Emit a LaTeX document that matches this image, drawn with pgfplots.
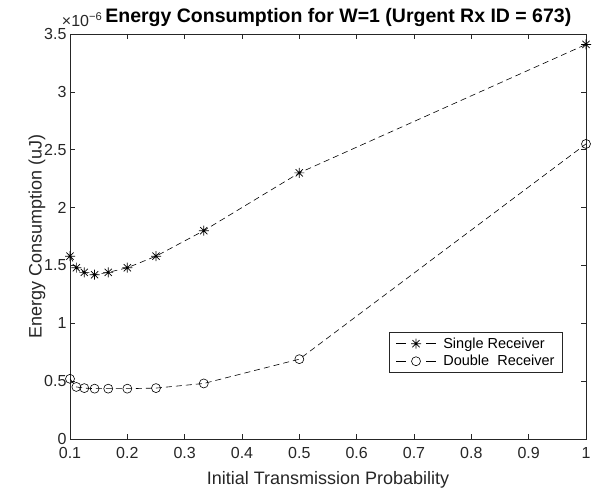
\documentclass[border=0pt]{standalone}
\usepackage{fontspec}
\setmainfont{Liberation Sans}
\usepackage{pgfplots}
\pgfplotsset{compat=1.18}

\definecolor{axgray}{RGB}{38,38,38}

% MATLAB-style asterisk: a plus and a cross on top of each other
\pgfdeclareplotmark{mstar}{%
  \pgfpathmoveto{\pgfqpoint{-\pgfplotmarksize}{0pt}}%
  \pgfpathlineto{\pgfqpoint{\pgfplotmarksize}{0pt}}%
  \pgfpathmoveto{\pgfqpoint{0pt}{-\pgfplotmarksize}}%
  \pgfpathlineto{\pgfqpoint{0pt}{\pgfplotmarksize}}%
  \pgfpathmoveto{\pgfqpoint{-0.72\pgfplotmarksize}{-0.72\pgfplotmarksize}}%
  \pgfpathlineto{\pgfqpoint{0.72\pgfplotmarksize}{0.72\pgfplotmarksize}}%
  \pgfpathmoveto{\pgfqpoint{-0.72\pgfplotmarksize}{0.72\pgfplotmarksize}}%
  \pgfpathlineto{\pgfqpoint{0.72\pgfplotmarksize}{-0.72\pgfplotmarksize}}%
  \pgfusepathqstroke}

\begin{document}
\begin{tikzpicture}
\begin{axis}[
  scale only axis,
  width=516pt, height=405pt,
  xmin=0.1, xmax=1, ymin=0, ymax=3.5,
  xtick={0.1,0.2,...,1.0},
  ytick={0,0.5,...,3.5},
  /pgf/number format/assume math mode=true,
  tick label style={font=\fontsize{16}{19}\selectfont, text=axgray},
  xticklabel style={yshift=-5pt},
  yticklabel style={xshift=0pt},
  tick align=inside,
  major tick length=5pt,
  tick style={axgray, line width=0.5pt},
  axis line style={axgray, line width=0.6pt},
  every axis x label/.style={at={(axis description cs:0.5,-0.101)}, anchor=center},
  every axis y label/.style={at={(axis description cs:-0.064,0.5)}, rotate=90, anchor=center},
  label style={font=\fontsize{18}{21}\selectfont, text=axgray},
  xlabel={Initial Transmission Probability},
  ylabel={Energy Consumption (uJ)},
  title={\bfseries Energy Consumption for W=1 (Urgent Rx ID = 673)},
  every axis title/.style={at={(axis description cs:0.52,1.041)}, anchor=center,
    font=\fontsize{19.5}{22}\selectfont},
  clip=false,
  legend style={at={(axis description cs:0.955,0.163)}, anchor=south east,
    font=\fontsize{14.5}{17}\selectfont, draw=axgray, line width=0.5pt,
    inner xsep=6pt, inner ysep=3.5pt, row sep=1.5pt, column sep=5pt,
    cells={anchor=west}},
  legend image code/.code={%
    \draw[dash pattern=on 10pt off 20pt, mark repeat=2, mark phase=2]
      plot coordinates {(0pt,0pt) (20pt,0pt) (40pt,0pt)};},
]
\addplot[black, line width=0.6pt, dash pattern=on 6pt off 4pt,
  mark=mstar, mark size=5pt, mark options={solid, line width=0.7pt}]
  coordinates {
  (0.1,1.58) (0.1111,1.48) (0.125,1.44) (0.1429,1.42) (0.1667,1.44)
  (0.2,1.48) (0.25,1.58) (0.3333,1.80) (0.5,2.30) (1.0,3.41)};
\addlegendentry{Single Receiver}
\addplot[black, line width=0.6pt, dash pattern=on 6pt off 4pt,
  mark=o, mark size=4.5pt, mark options={solid, line width=0.6pt}]
  coordinates {
  (0.1,0.52) (0.1111,0.45) (0.125,0.44) (0.1429,0.435) (0.1667,0.435)
  (0.2,0.435) (0.25,0.44) (0.3333,0.48) (0.5,0.69) (1.0,2.55)};
\addlegendentry{Double\ \ Receiver}
\node[anchor=south west, inner sep=0pt, text=axgray,
  font=\fontsize{16}{18}\selectfont] at (axis description cs:-0.016,1.018)
  {×10\textsuperscript{−6}};
\end{axis}
\pgfresetboundingbox
\path ([shift={(-70pt,-56pt)}]current axis.south west)
  rectangle ([shift={(8pt,34pt)}]current axis.north east);
\end{tikzpicture}
\end{document}
